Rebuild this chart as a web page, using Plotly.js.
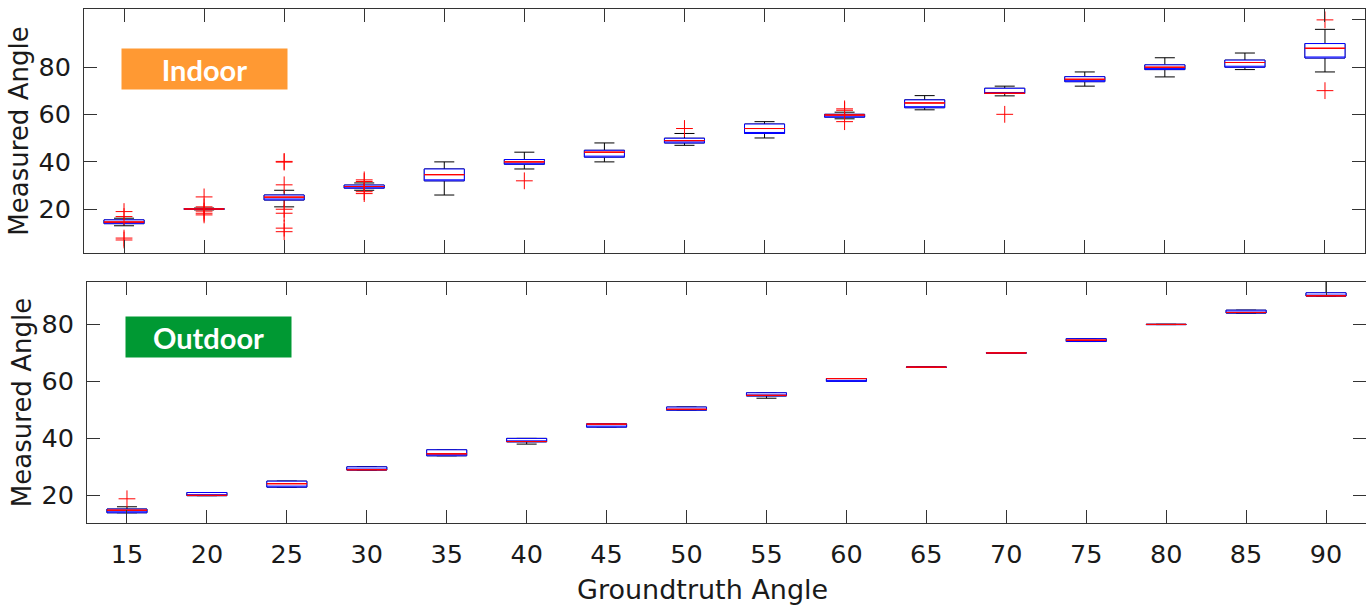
<!DOCTYPE html>
<html>
<head>
<meta charset="utf-8">
<script src="https://cdn.plot.ly/plotly-3.0.1.min.js"></script>
<style>html,body{margin:0;padding:0;background:#fff;}#chart{width:1366px;height:607px;}</style>
</head>
<body>
<div id="chart"></div>
<script>
// ---- data ----
const categories = ['15','20','25','30','35','40','45','50','55','60','65','70','75','80','85','90'];

const indoorLower  = [13.0, 19.7, 21.0, 28.0, 26.0, 37.0, 40.0, 47.0, 50.1, 58.2, 62.0, 67.9, 72.0, 75.9, 79.0, 78.0];
const indoorQ1     = [13.9, 19.9, 23.9, 28.9, 32.0, 39.0, 42.0, 48.0, 52.0, 58.9, 62.9, 68.9, 73.9, 79.0, 80.0, 83.9];
const indoorMedian = [14.6, 20.1, 25.1, 29.6, 34.6, 40.0, 44.1, 49.0, 54.1, 59.8, 64.9, 69.0, 74.9, 80.0, 82.0, 88.0];
const indoorQ3     = [15.5, 20.3, 26.0, 30.2, 37.0, 41.0, 44.9, 50.0, 56.0, 60.1, 66.2, 71.1, 76.0, 81.0, 83.0, 90.0];
const indoorUpper  = [16.2, 20.5, 28.0, 31.1, 40.0, 44.1, 48.0, 52.0, 57.0, 61.0, 68.0, 72.0, 78.0, 84.0, 86.0, 96.0];
const indoorOutlierX = ['15','15','15','15','20','20','20','20','20','25','25','25','25','25','25','25','30','30','30','30','40','50','60','60','60','70','90','90'];
const indoorOutlierY = [19.0,16.9,7.8,7.0,25.2,21.0,19.2,18.3,17.6,39.9,40.2,30.3,20.0,18.3,12.0,10.5,32.4,31.7,27.4,26.6,32.0,54.1,62.4,61.8,57.0,60.1,100.0,70.1];

const outdoorLower  = [13.9, 19.9, 22.9, 28.9, 33.9, 38.0, 43.95, 49.9, 54.1, 60.0, 64.95, 69.95, 74.0, 79.95, 84.0, 89.95];
const outdoorQ1     = [13.9, 19.9, 22.9, 28.9, 33.9, 38.8, 43.95, 49.9, 54.9, 60.0, 64.95, 69.95, 74.0, 79.95, 84.0, 89.95];
const outdoorMedian = [14.8, 20.0, 24.1, 29.0, 34.6, 38.9, 45.0, 50.2, 55.1, 61.0, 65.0, 70.0, 74.5, 80.0, 84.2, 90.05];
const outdoorQ3     = [15.2, 21.0, 25.0, 30.0, 36.0, 40.0, 45.1, 51.0, 56.0, 61.0, 65.05, 70.05, 75.0, 80.05, 85.0, 91.1];
const outdoorUpper  = [16.0, 21.0, 25.0, 30.0, 36.0, 40.0, 45.1, 51.0, 56.0, 61.0, 65.05, 70.05, 75.0, 80.05, 85.0, 96.0];
const outdoorOutlierX = ['15'];
const outdoorOutlierY = [18.8];

const yTicksLeft = [20, 40, 60, 80];
const yTicksRightTop = [20, 40, 60, 80, 100];

// ---- styling ----
const AX = '#333333';
const FONT = 'DejaVu Sans, Verdana, sans-serif';
const TICK_FS = 25.5;
const YT_FS = 26;
const XT_FS = 27;

function boxLayers(xa, ya, lower, q1, med, q3, upper) {
  const common = {type: 'box', x: categories, xaxis: xa, yaxis: ya, width: 0.5,
                  boxpoints: false, hoverinfo: 'skip', showlegend: false};
  return [
    Object.assign({}, common, {q1: q1, median: med, q3: q3, lowerfence: lower, upperfence: upper,
      whiskerwidth: 0.5, line: {color: '#000000', width: 1}, fillcolor: 'rgba(0,0,0,0)'}),
    Object.assign({}, common, {q1: q1, median: q1, q3: q3, lowerfence: q1, upperfence: q3,
      whiskerwidth: 0, line: {color: '#0000ff', width: 1}, fillcolor: 'rgba(255,255,255,1)'}),
    Object.assign({}, common, {q1: med, median: med, q3: med, lowerfence: med, upperfence: med,
      whiskerwidth: 0, line: {color: '#ff0000', width: 1}, fillcolor: 'rgba(0,0,0,0)'})
  ];
}

const outlierMarker = {symbol: 'cross-thin-open', size: 12, color: '#ff0000', line: {color: '#ff0000', width: 1}};

const data = []
  .concat(boxLayers('x', 'y', indoorLower, indoorQ1, indoorMedian, indoorQ3, indoorUpper))
  .concat([{type: 'scatter', mode: 'markers', x: indoorOutlierX, y: indoorOutlierY, xaxis: 'x', yaxis: 'y3',
            marker: outlierMarker, hoverinfo: 'skip', showlegend: false}])
  .concat(boxLayers('x2', 'y2', outdoorLower, outdoorQ1, outdoorMedian, outdoorQ3, outdoorUpper))
  .concat([{type: 'scatter', mode: 'markers', x: outdoorOutlierX, y: outdoorOutlierY, xaxis: 'x2', yaxis: 'y2',
            marker: outlierMarker, hoverinfo: 'skip', showlegend: false}]);

const tickFont = {family: FONT, size: TICK_FS, color: '#1a1a1a'};
const baseAxis = {showgrid: false, zeroline: false, showline: true, linecolor: AX, linewidth: 1,
                  ticks: 'inside', ticklen: 13, tickwidth: 1, tickcolor: AX, tickfont: tickFont};

const layout = {
  width: 1366, height: 607,
  margin: {l: 0, r: 0, t: 0, b: 0},
  paper_bgcolor: '#ffffff', plot_bgcolor: '#ffffff',
  boxmode: 'overlay',
  showlegend: false,
  xaxis: Object.assign({}, baseAxis, {domain: [84/1366, 1365/1366], anchor: 'y', type: 'category',
          categoryarray: categories, range: [-0.5, 15.5], mirror: 'ticks', showticklabels: false}),
  yaxis: Object.assign({}, baseAxis, {domain: [(607-253)/607, (607-9)/607], anchor: 'x', range: [1.5, 104.6],
          tickvals: yTicksLeft, ticklabelstandoff: 7, mirror: false,
          title: {text: 'Measured Angle', font: {family: FONT, size: YT_FS, color: '#1a1a1a'}, standoff: 2}}),
  yaxis3: Object.assign({}, baseAxis, {overlaying: 'y', side: 'right', anchor: 'x', range: [1.5, 104.6],
          tickvals: yTicksRightTop, showticklabels: false}),
  xaxis2: Object.assign({}, baseAxis, {domain: [87/1366, 1], anchor: 'y2', type: 'category',
          categoryarray: categories, range: [-0.5, 15.5], mirror: 'ticks', ticklabelstandoff: 8}),
  yaxis2: Object.assign({}, baseAxis, {domain: [(607-523.3)/607, (607-281.7)/607], anchor: 'x2', range: [10.2, 95],
          tickvals: yTicksLeft, mirror: 'ticks', ticklabelstandoff: 7,
          title: {text: 'Measured Angle', font: {family: FONT, size: YT_FS, color: '#1a1a1a'}, standoff: 2}}),
  annotations: [
    {text: 'Indoor', xref: 'x domain', yref: 'y domain', x: (121-84)/1281, y: (253-48)/244,
     xanchor: 'left', yanchor: 'top', showarrow: false, width: 165, height: 40, borderpad: 0,
     bgcolor: '#ff9933', align: 'center', valign: 'middle',
     font: {family: 'Lato, sans-serif', size: 29, color: '#ffffff', weight: 'bold'}},
    {text: 'Outdoor', xref: 'x2 domain', yref: 'y2 domain', x: (125-87)/1280, y: (523.3-316)/241.6,
     xanchor: 'left', yanchor: 'top', showarrow: false, width: 165, height: 40, borderpad: 0,
     bgcolor: '#009933', align: 'center', valign: 'middle',
     font: {family: 'Lato, sans-serif', size: 29, color: '#ffffff', weight: 'bold'}},
    {text: 'Groundtruth Angle', xref: 'paper', yref: 'paper', x: 703/1366, y: 0,
     xanchor: 'center', yanchor: 'bottom', yshift: 0, showarrow: false,
     font: {family: FONT, size: XT_FS, color: '#1a1a1a'}}
  ]
};

Plotly.newPlot('chart', data, layout, {staticPlot: true, displayModeBar: false});
</script>
</body>
</html>
